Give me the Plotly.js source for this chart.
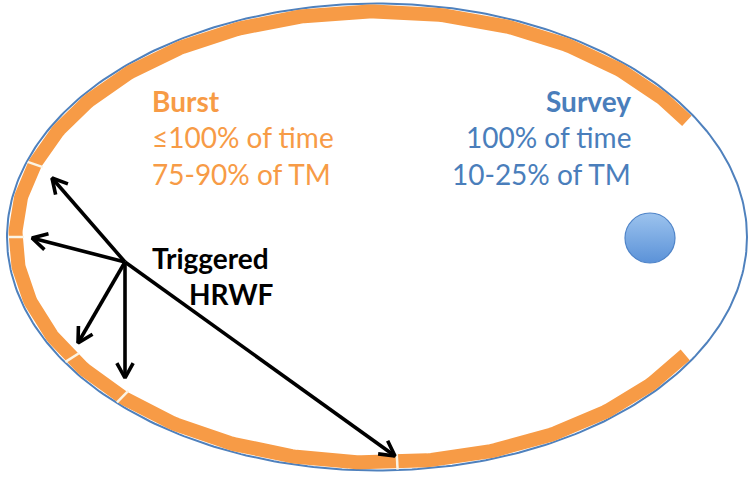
<!DOCTYPE html>
<html>
<head>
<meta charset="utf-8">
<script src="https://cdn.plot.ly/plotly-3.0.1.min.js"></script>
<style>html,body{margin:0;padding:0;background:#fff;}#chart{width:748px;height:477px;}</style>
</head>
<body>
<div id="chart"></div>
<script>
// ---- data ----
const burstLabels = ["Burst", "\u2264100% of time", "75-90% of TM"];
const surveyLabels = ["Survey", "100% of time", "10-25% of TM"];
const triggerLabels = ["Triggered", "HRWF"];
const burstArcDeg = [31.5, 329];            // orbit parameter range covered by burst (orange)
const gapDeg = [86.8, 134.8, 147.6, 180, 198.8]; // breaks between burst segments
const arrowTipX = [52, 32, 78, 125, 395];
const arrowTipY = [178, 238, 343, 378, 456];
const arrowOrigin = [125, 262];
const sunPos = [650, 238];

// ---- geometry ----
const cx = 377, cy = 237;
const ORANGE = '#f79b46', BLUE = '#4f81bd';
function ell(a, b, t0, t1, n) {
  const xs = [], ys = [];
  for (let i = 0; i <= n; i++) {
    const t = (t0 + (t1 - t0) * i / n) * Math.PI / 180;
    xs.push(cx + a * Math.cos(t)); ys.push(cy + b * Math.sin(t));
  }
  return {xs, ys};
}
const traces = [];
const outer = ell(370, 233.5, 0, 360, 400);
traces.push({x: outer.xs, y: outer.ys, mode: 'lines', line: {color: BLUE, width: 2}, hoverinfo: 'skip'});
const band = ell(361.5, 225.5, burstArcDeg[0], burstArcDeg[1], 400);
traces.push({x: band.xs, y: band.ys, mode: 'lines', line: {color: ORANGE, width: 14}, hoverinfo: 'skip'});
// gaps
const gx = [], gy = [];
gapDeg.forEach(d => {
  const t = d * Math.PI / 180;
  gx.push(cx + 353 * Math.cos(t), cx + 369 * Math.cos(t), null);
  gy.push(cy + 217 * Math.sin(t), cy + 233 * Math.sin(t), null);
});
traces.push({x: gx, y: gy, mode: 'lines', line: {color: '#fbf4e4', width: 2.5}, hoverinfo: 'skip'});
// arrows
const ax = [], ay = [];
arrowTipX.forEach((tx, i) => {
  const ty = arrowTipY[i];
  const [ox, oy] = arrowOrigin;
  const ang = Math.atan2(oy - ty, ox - tx);
  const L = 17, spread = 0.5;
  ax.push(ox, tx, null, tx + L * Math.cos(ang + spread), tx, tx + L * Math.cos(ang - spread), null);
  ay.push(oy, ty, null, ty + L * Math.sin(ang + spread), ty, ty + L * Math.sin(ang - spread), null);
});
traces.push({x: ax, y: ay, mode: 'lines', line: {color: '#000', width: 3.6}, hoverinfo: 'skip'});
// sun / earth marker
traces.push({x: [sunPos[0]], y: [sunPos[1]], mode: 'markers',
  marker: {size: 50, color: '#9cc3ee', gradient: {type: 'vertical', color: '#5b92d8'}, line: {color: '#4f84c8', width: 1.2}},
  hoverinfo: 'skip'});

const FONT = 'Lato, "Open Sans", sans-serif';
const FS = 28;
const ann = [];
const lineY = [101, 137, 174];
burstLabels.forEach((t, i) => ann.push({x: 150, y: lineY[i], xref: 'x', yref: 'y', text: i === 0 ? '<b>' + t + '</b>' : t,
  showarrow: false, xanchor: 'left', yanchor: 'middle', font: {family: FONT, size: FS, color: ORANGE}}));
surveyLabels.forEach((t, i) => ann.push({x: 633, y: lineY[i], xref: 'x', yref: 'y', text: i === 0 ? '<b>' + t + '</b>' : t,
  showarrow: false, xanchor: 'right', yanchor: 'middle', font: {family: FONT, size: FS, color: '#4a7ebb'}}));
ann.push({x: 150, y: 258, xref: 'x', yref: 'y', text: '<b>' + triggerLabels[0] + '</b>', showarrow: false,
  xanchor: 'left', yanchor: 'middle', font: {family: FONT, size: FS, color: '#000'}});
ann.push({x: 276, y: 294, xref: 'x', yref: 'y', text: '<b>' + triggerLabels[1] + '</b>', showarrow: false,
  xanchor: 'right', yanchor: 'middle', font: {family: FONT, size: FS, color: '#000'}});

const layout = {
  width: 748, height: 477, margin: {l: 0, r: 0, t: 0, b: 0},
  paper_bgcolor: '#fff', plot_bgcolor: '#fff', showlegend: false,
  xaxis: {range: [0, 748], visible: false, fixedrange: true},
  yaxis: {range: [477, 0], visible: false, fixedrange: true},
  annotations: ann
};
Plotly.newPlot('chart', traces, layout, {staticPlot: true});
</script>
</body>
</html>
